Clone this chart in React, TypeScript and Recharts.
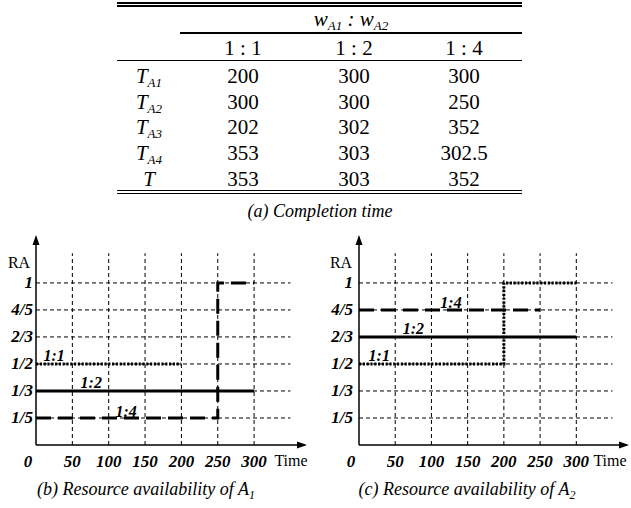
import React from "react";
import { LineChart, Line, XAxis, YAxis, ReferenceLine, ReferenceDot } from "recharts";

const FONT = "Liberation Serif, DejaVu Serif, serif";

// ---------- Table (a) data ----------
const ratioHeaders = ["1 : 1", "1 : 2", "1 : 4"];
const taskSubscripts = ["A1", "A2", "A3", "A4", ""];
const completionRatio11 = ["200", "300", "202", "353", "353"];
const completionRatio12 = ["300", "300", "302", "303", "303"];
const completionRatio14 = ["300", "250", "352", "302.5", "352"];

// ---------- Chart data ----------
const raLevels = ["0", "1/5", "1/3", "1/2", "2/3", "4/5", "1"];
const timeTicks = [0, 50, 100, 150, 200, 250, 300];

// Resource availability of A1
const a1Ratio11Time = [0, 200];
const a1Ratio11RA = ["1/2", "1/2"];
const a1Ratio12Time = [0, 300];
const a1Ratio12RA = ["1/3", "1/3"];
const a1Ratio14Time = [0, 250, 250, 300];
const a1Ratio14RA = ["1/5", "1/5", "1", "1"];

// Resource availability of A2
const a2Ratio11Time = [0, 200, 200, 300];
const a2Ratio11RA = ["1/2", "1/2", "1", "1"];
const a2Ratio12Time = [0, 300];
const a2Ratio12RA = ["2/3", "2/3"];
const a2Ratio14Time = [0, 250];
const a2Ratio14RA = ["4/5", "4/5"];

const seriesNames = ["1:1", "1:2", "1:4"];

const toPoints = (t: number[], ra: string[]) =>
  t.map((x, i) => ({ t: x, level: raLevels.indexOf(ra[i]) }));

const STYLES: Record<string, any> = {
  "1:1": { strokeWidth: 3, strokeDasharray: "2.2 1.6" },
  "1:2": { strokeWidth: 3 },
  "1:4": { strokeWidth: 3, strokeDasharray: "15 7" },
};

const X_MAX = 370;
const Y_MAX = 7.7;
const GRID_X_END = 350;
const GRID_Y_END = 7.1;

function XTick(props: any) {
  const { x, y, payload } = props;
  const v = payload.value;
  return (
    <text
      x={v === 0 ? x - 8 : x}
      y={y + 16}
      textAnchor="middle"
      dominantBaseline="central"
      style={{ fontFamily: FONT, fontWeight: "bold", fontStyle: "italic", fontSize: 17 }}
      fill="#000"
    >
      {v}
    </text>
  );
}

function makeYTick(gap: number) {
  return function YTick(props: any) {
    const { x, y, payload } = props;
    return (
      <text
        x={x - gap}
        y={y}
        textAnchor="end"
        dominantBaseline="central"
        style={{ fontFamily: FONT, fontWeight: "bold", fontStyle: "italic", fontSize: 17 }}
        fill="#000"
      >
        {raLevels[payload.value]}
      </text>
    );
  };
}

type SeriesDef = { name: string; data: { t: number; level: number }[]; label: { x: number; y: number } };

function RAChart({
  width,
  yAxisWidth,
  rightMargin,
  tickGap,
  series,
}: {
  width: number;
  yAxisWidth: number;
  rightMargin: number;
  tickGap: number;
  series: SeriesDef[];
}) {
  const YTick = makeYTick(tickGap);
  return (
    <LineChart width={width} height={250} margin={{ top: 7, right: rightMargin, bottom: 5, left: 0 }}>
      <XAxis
        type="number"
        dataKey="t"
        domain={[0, X_MAX]}
        ticks={timeTicks}
        allowDataOverflow
        tick={<XTick />}
        tickLine={false}
        tickSize={0}
        tickMargin={0}
        height={30}
        axisLine={{ stroke: "#000", strokeWidth: 1.5 }}
      />
      <YAxis
        type="number"
        domain={[0, Y_MAX]}
        ticks={[1, 2, 3, 4, 5, 6]}
        allowDataOverflow
        width={yAxisWidth}
        tick={<YTick />}
        tickLine={false}
        tickSize={0}
        tickMargin={0}
        axisLine={{ stroke: "#000", strokeWidth: 1.5 }}
      />
      {[1, 2, 3, 4, 5, 6].map((lv) => (
        <ReferenceLine
          key={"h" + lv}
          segment={[
            { x: 0, y: lv },
            { x: GRID_X_END, y: lv },
          ]}
          stroke="#000"
          strokeWidth={1}
          strokeDasharray="4 3"
        />
      ))}
      {timeTicks
        .filter((t) => t > 0)
        .map((t) => (
          <ReferenceLine
            key={"v" + t}
            segment={[
              { x: t, y: 0 },
              { x: t, y: GRID_Y_END },
            ]}
            stroke="#000"
            strokeWidth={1}
            strokeDasharray="4 3"
          />
        ))}
      {series.map((s) => (
        <Line
          key={s.name}
          data={s.data}
          dataKey="level"
          type="linear"
          stroke="#000"
          dot={false}
          activeDot={false}
          isAnimationActive={false}
          {...STYLES[s.name]}
        />
      ))}
      {series.map((s) => (
        <ReferenceDot
          key={"lbl" + s.name}
          x={s.label.x}
          y={s.label.y}
          r={0}
          ifOverflow="visible"
          shape={(p: any) => (
            <text
              x={p.cx}
              y={p.cy}
              textAnchor="middle"
              dominantBaseline="central"
              style={{ fontFamily: FONT, fontWeight: "bold", fontStyle: "italic", fontSize: 16 }}
              fill="#000"
            >
              {s.name}
            </text>
          )}
        />
      ))}
      <ReferenceDot
        x={X_MAX}
        y={0}
        r={0}
        ifOverflow="visible"
        shape={(p: any) => (
          <polygon
            points={`${p.cx + 2},${p.cy} ${p.cx - 8},${p.cy - 3.5} ${p.cx - 8},${p.cy + 3.5}`}
            fill="#000"
          />
        )}
      />
      <ReferenceDot
        x={0}
        y={Y_MAX}
        r={0}
        ifOverflow="visible"
        shape={(p: any) => (
          <polygon
            points={`${p.cx},${p.cy - 2} ${p.cx - 3.5},${p.cy + 8} ${p.cx + 3.5},${p.cy + 8}`}
            fill="#000"
          />
        )}
      />
    </LineChart>
  );
}

function T({ cx, cy, size = 21, italic = false, bold = false, children }: any) {
  return (
    <div
      style={{
        position: "absolute",
        left: cx,
        top: cy,
        transform: "translate(-50%, -50%)",
        whiteSpace: "nowrap",
        lineHeight: 1,
        fontSize: size,
        fontStyle: italic ? "italic" : "normal",
        fontWeight: bold ? "bold" : "normal",
        fontFamily: FONT,
        color: "#000",
      }}
    >
      {children}
    </div>
  );
}

function Sub({ children, size = 13, drop = 4 }: any) {
  return <span style={{ fontSize: size, position: "relative", top: drop, fontStyle: "italic" }}>{children}</span>;
}

function HLine({ x, y, w, h }: any) {
  return <div style={{ position: "absolute", left: x, top: y, width: w, height: h, background: "#000" }} />;
}

const colCenters = [243, 354, 464];
const rowCenters = [76, 101.5, 127, 153, 178.5];

export default function App() {
  const a1Series: SeriesDef[] = [
    { name: seriesNames[0], data: toPoints(a1Ratio11Time, a1Ratio11RA), label: { x: 25, y: 3.33 } },
    { name: seriesNames[1], data: toPoints(a1Ratio12Time, a1Ratio12RA), label: { x: 76, y: 2.3 } },
    { name: seriesNames[2], data: toPoints(a1Ratio14Time, a1Ratio14RA), label: { x: 124, y: 1.25 } },
  ];
  const a2Series: SeriesDef[] = [
    { name: seriesNames[0], data: toPoints(a2Ratio11Time, a2Ratio11RA), label: { x: 28, y: 3.3 } },
    { name: seriesNames[1], data: toPoints(a2Ratio12Time, a2Ratio12RA), label: { x: 75, y: 4.3 } },
    { name: seriesNames[2], data: toPoints(a2Ratio14Time, a2Ratio14RA), label: { x: 127, y: 5.26 } },
  ];
  const columns = [completionRatio11, completionRatio12, completionRatio14];

  return (
    <div
      style={{
        position: "absolute",
        left: 0,
        top: 0,
        width: 631,
        height: 508,
        background: "#fff",
        overflow: "hidden",
        fontFamily: FONT,
      }}
    >
      {/* Table (a) */}
      <HLine x={117} y={2.3} w={405} h={1.7} />
      <HLine x={117} y={5.3} w={405} h={1.4} />
      <T cx={351} cy={19} italic>
        w<Sub>A1</Sub> : w<Sub>A2</Sub>
      </T>
      <HLine x={180} y={32.4} w={342} h={1.6} />
      {ratioHeaders.map((h, i) => (
        <T key={h} cx={colCenters[i]} cy={48}>
          {h}
        </T>
      ))}
      <HLine x={117} y={59.5} w={405} h={1.7} />
      {taskSubscripts.map((s, r) => (
        <T key={"row" + r} cx={149} cy={rowCenters[r]} italic>
          T{s ? <Sub>{s}</Sub> : null}
        </T>
      ))}
      {columns.map((col, c) =>
        col.map((v, r) => (
          <T key={c + "-" + r} cx={colCenters[c]} cy={rowCenters[r]}>
            {v}
          </T>
        ))
      )}
      <HLine x={117} y={189.8} w={405} h={1.7} />
      <HLine x={117} y={192.8} w={405} h={1.4} />
      <T cx={320} cy={211} size={18} italic>
        (a) Completion time
      </T>

      {/* Chart (b) */}
      <div style={{ position: "absolute", left: 0, top: 230 }}>
        <RAChart width={320} yAxisWidth={36} rightMargin={15} tickGap={3} series={a1Series} />
      </div>
      <T cx={19} cy={263} size={16}>
        RA
      </T>
      <T cx={291} cy={461} size={16}>
        Time
      </T>
      <T cx={146} cy={489} size={18} italic>
        (b) Resource availability of A<Sub size={12} drop={4}>1</Sub>
      </T>

      {/* Chart (c) */}
      <div style={{ position: "absolute", left: 320, top: 230 }}>
        <RAChart width={311} yAxisWidth={39} rightMargin={4} tickGap={6} series={a2Series} />
      </div>
      <T cx={341} cy={263} size={16}>
        RA
      </T>
      <T cx={610} cy={461} size={16}>
        Time
      </T>
      <T cx={467} cy={489} size={18} italic>
        (c) Resource availability of A<Sub size={12} drop={4}>2</Sub>
      </T>
    </div>
  );
}
